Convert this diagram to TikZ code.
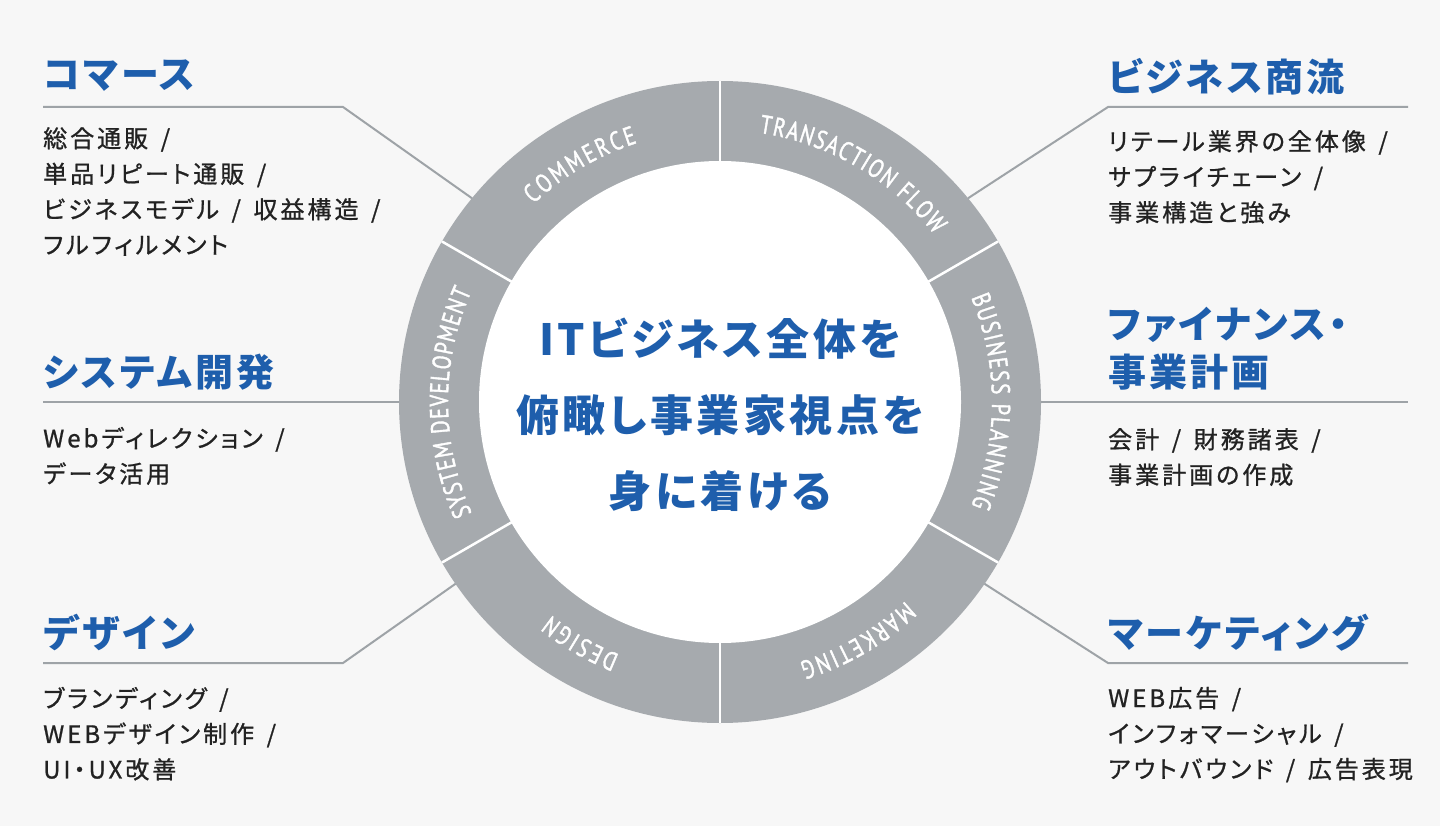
\documentclass[tikz,border=0pt]{standalone}
\usepackage{fontspec}
\setmainfont{Noto Sans CJK JP}[RawFeature=+palt]
\newfontfamily\headfont{Noto Sans CJK JP}[RawFeature=+palt, LetterSpace=8]
\newfontfamily\bodyfont{Noto Sans CJK JP}[RawFeature=+palt, LetterSpace=12.5, FakeBold=0.9, WordSpace=1.5]
\newfontfamily\ringfont{PT Sans}[FakeStretch=0.78, FakeBold=1.5]
\usetikzlibrary{calc, decorations.text}

\begin{document}
\begin{tikzpicture}[x = 1pt, y = 1pt,
        leader/.style = {draw = myleader, line width = 2pt},
        heading/.style = {anchor = west, inner sep = 0pt, text = myblue, font = \headfont\bfseries\fontsize{38}{48}\selectfont},
        itemtext/.style = {anchor = north west, inner sep = 0pt, align = left, text = mydark, font = \bodyfont\fontsize{24}{35.5}\selectfont},
        ringlabel/.style = {decorate, decoration = {text along path, text = {|\ringfont\fontsize{26}{26}\selectfont|#1}, text align = {fit to path}, text color = white}}]
        \definecolor{mybg}{RGB}{247,247,247}
        \definecolor{myring}{RGB}{166,170,174}
        \definecolor{myleader}{RGB}{158,163,167}
        \definecolor{myblue}{RGB}{30,94,172}
        \definecolor{mydark}{RGB}{34,34,34}

        \fill[mybg] (0, 0) rectangle (1440, -826);
        \useasboundingbox (0, 0) rectangle (1440, -826);

        \coordinate (hub) at (720, -402);
        \fill[myring] (hub) circle [radius = 321];
        \fill[white] (hub) circle [radius = 241];
        \foreach \a in {30, 90, ..., 330}
          \draw[white, line width = 2.5pt] ($(hub) + (\a:240)$) -- ($(hub) + (\a:321)$);

        \path[ringlabel = COMMERCE] ($(hub) + (133.3:272)$) arc [start angle = 133.3, end angle = 107.7, radius = 272];
        \path[ringlabel = TRANSACTION FLOW] ($(hub) + (81.7:272)$) arc [start angle = 81.7, end angle = 38, radius = 272];
        \path[ringlabel = BUSINESS PLANNING] ($(hub) + (22.6:272)$) arc [start angle = 22.6, end angle = -22.4, radius = 272];
        \path[ringlabel = MARKETING] ($(hub) + (-47:272)$) arc [start angle = -47, end angle = -73, radius = 272];
        \path[ringlabel = DESIGN] ($(hub) + (248.3:272)$) arc [start angle = 248.3, end angle = 231.6, radius = 272];
        \path[ringlabel = SYSTEM DEVELOPMENT] ($(hub) + (204.2:272)$) arc [start angle = 204.2, end angle = 156, radius = 272];

        \node[align = center, text = myblue, font = \headfont\bfseries\fontsize{43}{76.4}\selectfont] (motto) at (720, -414.8) {ITビジネス全体を\\俯瞰し事業家視点を\\身に着ける};

        \node[heading] (hCommerce) at (43, -76) {コマース};
        \node[itemtext] (bCommerce) at (43, -127) {総合通販 /\\単品リピート通販 /\\ビジネスモデル / 収益構造 /\\フルフィルメント};
        \node[heading] (hSystem) at (43, -372) {システム開発};
        \node[itemtext] (bSystem) at (43, -426.7) {Webディレクション /\\データ活用};
        \node[heading] (hDesign) at (43, -632.5) {デザイン};
        \node[itemtext] (bDesign) at (43, -686.7) {ブランディング /\\WEBデザイン制作 /\\UI・UX改善};

        \node[heading] (hFlow) at (1108, -77) {ビジネス商流};
        \node[itemtext] (bFlow) at (1108, -130) {リテール業界の全体像 /\\サプライチェーン /\\事業構造と強み};
        \node[heading, anchor = north west, align = left] (hFinance) at (1108, -306.7) {ファイナンス・\\事業計画};
        \node[itemtext] (bFinance) at (1108, -428) {会計 / 財務諸表 /\\事業計画の作成};
        \node[heading] (hMarketing) at (1108, -632.5) {マーケティング};
        \node[itemtext] (bMarketing) at (1108, -686.7) {WEB広告 /\\インフォマーシャル /\\アウトバウンド / 広告表現};

        \coordinate (kCommerce) at (343, -107);
        \coordinate (eCommerce) at ($(hub) + (140.6:321)$);
        \coordinate (eSystem) at ($(hub) + (180:321)$);
        \coordinate (kDesign) at (343, -663);
        \coordinate (eDesign) at ($(hub) + (214.5:321)$);
        \coordinate (kFlow) at (1108, -107);
        \coordinate (eFlow) at ($(hub) + (39.4:321)$);
        \coordinate (eFinance) at ($(hub) + (0:321)$);
        \coordinate (kMarketing) at (1108, -663);
        \coordinate (eMarketing) at ($(hub) + (-34.5:321)$);

        \path[leader] (hCommerce.west |- kCommerce) -- (kCommerce) -- (eCommerce);
        \path[leader] (hSystem.west |- eSystem) -- (eSystem);
        \path[leader] (hDesign.west |- kDesign) -- (kDesign) -- (eDesign);
        \path[leader] (eFlow) -- (kFlow) -- ++(300, 0);
        \path[leader] (eFinance) -- ([xshift = 300pt] kFlow |- eFinance);
        \path[leader] (eMarketing) -- (kMarketing) -- ++(300, 0);
\end{tikzpicture}
\end{document}
